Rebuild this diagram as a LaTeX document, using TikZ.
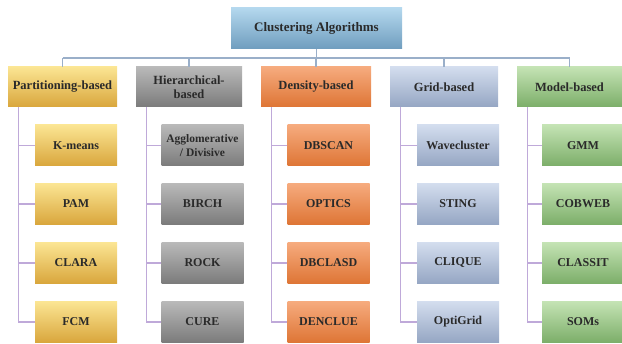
\documentclass[tikz,border=0pt]{standalone}
\usepackage{fontspec}
\setmainfont{Liberation Serif}
\usetikzlibrary{calc}
\definecolor{busc}{HTML}{9AAFC9}
\definecolor{linkc}{HTML}{BFA9D9}
\definecolor{txt}{HTML}{2A2A2A}
\tikzset{
  box/.style={draw=none, minimum height=40pt, align=center, inner sep=0pt, text=txt, font=\bfseries\fontsize{12.5}{14.5}\selectfont},
  topbox/.style={box, minimum width=171pt, minimum height=41pt, top color=topT, bottom color=topB, font=\bfseries\fontsize{13}{14}\selectfont},
  hbox/.style={box, minimum width=108pt},
  cbox/.style={box, minimum width=82pt, minimum height=41pt, font=\bfseries\fontsize{12}{12.5}\selectfont},
  pcol/.style={top color=pT, bottom color=pB},
  hcol/.style={top color=hT, bottom color=hB},
  dcol/.style={top color=dT, bottom color=dB},
  gcol/.style={top color=gT, bottom color=gB},
  mcol/.style={top color=mT, bottom color=mB},
  bus/.style={draw=busc, line width=1.4pt},
  link/.style={draw=linkc, line width=1.2pt},
}
\definecolor{topT}{HTML}{B4D8EE}
\definecolor{topB}{HTML}{6F9DBE}
\definecolor{pT}{HTML}{FBE593}
\definecolor{pB}{HTML}{D9A63C}
\definecolor{hT}{HTML}{B9B9B9}
\definecolor{hB}{HTML}{7B7B7B}
\definecolor{dT}{HTML}{F6AB7E}
\definecolor{dB}{HTML}{DE7535}
\definecolor{gT}{HTML}{D3DDEE}
\definecolor{gB}{HTML}{95A6C3}
\definecolor{mT}{HTML}{C4E3B4}
\definecolor{mB}{HTML}{7CAE69}
\begin{document}
\begin{tikzpicture}[x=1pt,y=1pt]
\useasboundingbox (0,0) rectangle (622,344);
% top
\node[topbox] (top) at (316.5,315.5) {Clustering Algorithms};
% level 1
\node[hbox,pcol,minimum width=109pt] (p) at (62.5,257) {Partitioning-based};
\node[hbox,hcol,minimum width=106pt] (h) at (189,257) {Hierarchical-\\based};
\node[hbox,dcol,minimum width=110pt] (d) at (316,257) {Density-based};
\node[hbox,gcol,minimum width=108pt] (g) at (444,257) {Grid-based};
\node[hbox,mcol,minimum width=105pt] (m) at (569.5,257) {Model-based};
% bus
\coordinate (bus) at (0,286);
\draw[bus] (top.south) -- (top.south |- bus);
\draw[bus] (p.north |- bus) -- (m.north |- bus);
\foreach \n in {p,h,d,g,m} \draw[bus] (\n.north) -- (\n.north |- bus);
% children
\node[cbox,pcol] (p1) at (76,198.5) {K-means};
\node[cbox,pcol] (p2) at (76,140) {PAM};
\node[cbox,pcol] (p3) at (76,81) {CLARA};
\node[cbox,pcol] (p4) at (76,22) {FCM};
\node[cbox,hcol,font=\bfseries\fontsize{11.5}{13.5}\selectfont] (h1) at (202.5,198.5) {Agglomerative\\/ Divisive};
\node[cbox,hcol] (h2) at (202.5,140) {BIRCH};
\node[cbox,hcol] (h3) at (202.5,81) {ROCK};
\node[cbox,hcol] (h4) at (202.5,22) {CURE};
\node[cbox,dcol] (d1) at (328.5,198.5) {DBSCAN};
\node[cbox,dcol] (d2) at (328.5,140) {OPTICS};
\node[cbox,dcol] (d3) at (328.5,81) {DBCLASD};
\node[cbox,dcol] (d4) at (328.5,22) {DENCLUE};
\node[cbox,gcol] (g1) at (458,198.5) {Wavecluster};
\node[cbox,gcol] (g2) at (458,140) {STING};
\node[cbox,gcol] (g3) at (458,81) {CLIQUE};
\node[cbox,gcol] (g4) at (458,22) {OptiGrid};
\node[cbox,mcol] (m1) at (583,198.5) {GMM};
\node[cbox,mcol] (m2) at (583,140) {COBWEB};
\node[cbox,mcol] (m3) at (583,81) {CLASSIT};
\node[cbox,mcol] (m4) at (583,22) {SOMs};
\foreach \n in {p,h,d,g,m}{
  \coordinate (\n v) at ($(\n.south west)+(11,0)$);
  \draw[link] (\n v) |- (\n4.west);
  \foreach \i in {1,2,3} \draw[link] (\n\i.west) -- (\n\i.west -| \n v);
}
\end{tikzpicture}
\end{document}
